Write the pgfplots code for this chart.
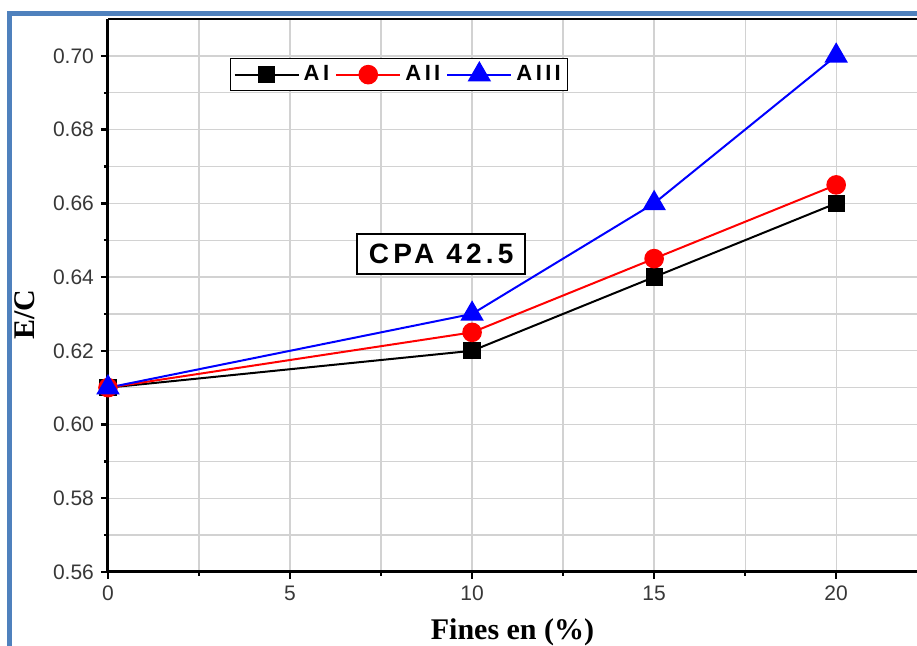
\documentclass[border=0pt]{standalone}
\usepackage{fontspec}
\setmainfont{Liberation Sans}
\newfontfamily\timesfont{Liberation Serif}
\newfontfamily\spaced{Liberation Sans}[LetterSpace=15]
\usepackage{pgfplots}
\pgfplotsset{compat=1.18}

\definecolor{frameblue}{RGB}{79,129,189}
\definecolor{gridgray}{RGB}{210,210,210}
\definecolor{ticktext}{RGB}{55,55,55}

\begin{document}
\begin{tikzpicture}
\begin{axis}[
    scale only axis,
    width=404.5pt, height=276.5pt,
    xmin=0, xmax=22.22, ymin=0.56, ymax=0.71,
    xtick={0,5,10,15,20},
    minor xtick={2.5,7.5,12.5,17.5},
    ytick={0.56,0.58,0.60,0.62,0.64,0.66,0.68,0.70},
    minor ytick={0.57,0.59,0.61,0.63,0.65,0.67,0.69},
    grid=both,
    grid style={gridgray, line width=0.65pt},
    minor grid style={gridgray, line width=0.65pt},
    axis lines*=left,
    axis line style={line width=1.5pt, -},
    tick align=outside,
    major tick length=3.5pt, minor tick length=2pt,
    tick style={black, line width=1.2pt},
    /pgf/number format/assume math mode=true,
    yticklabel style={/pgf/number format/.cd, fixed, fixed zerofill, precision=2},
    ticklabel style={font=\fontsize{10.5}{12}\selectfont, text=ticktext},
    xlabel={\timesfont\bfseries Fines en (\%)},
    xlabel style={at={(rel axis cs:0.5,0)}, yshift=-30pt, anchor=center, font=\fontsize{15}{17}\selectfont},
    ylabel={\timesfont\bfseries E/C},
    ylabel style={at={(rel axis cs:0,0.465)}, yshift=41.5pt, anchor=center, font=\fontsize{15}{17}\selectfont},
    legend columns=3,
    legend style={at={(rel axis cs:0.1508,0.9295)}, anchor=north west, draw=black, line width=0.6pt,
        font=\spaced\bfseries\fontsize{11}{13}\selectfont, inner sep=1.5pt,
        /tikz/every even column/.append style={column sep=1pt}},
    legend image code/.code={\draw[mark repeat=2, mark phase=2] plot coordinates {(0pt,0pt) (16pt,0pt) (32pt,0pt)};},
]
\addplot[black, line width=1pt, mark=square*, mark size=3.8pt] coordinates {(0,0.61) (10,0.62) (15,0.64) (20,0.66)};
\addplot[red, line width=1pt, mark=*, mark size=4.4pt] coordinates {(0,0.61) (10,0.625) (15,0.645) (20,0.665)};
\addplot[blue, line width=1pt, mark=triangle*, mark size=5.8pt] coordinates {(0,0.61) (10,0.63) (15,0.66) (20,0.70)};
\legend{A\,I, A\,II, A\,III}
\draw[line width=1.5pt] (rel axis cs:0,1) -- (rel axis cs:1,1);
\node[draw=black, line width=1pt, fill=white, inner xsep=6pt, inner ysep=5pt, font=\spaced\bfseries\fontsize{14}{16}\selectfont]
    at (axis cs:9.15,0.6463) {CPA 42.5};
\end{axis}
\draw[frameblue, line width=2.5pt] (-49pt,-45pt) -- (-49pt,279pt) -- (410pt,279pt);
\pgfresetboundingbox
\useasboundingbox (-54pt,-37pt) rectangle (404.5pt,286pt);
\end{tikzpicture}
\end{document}
